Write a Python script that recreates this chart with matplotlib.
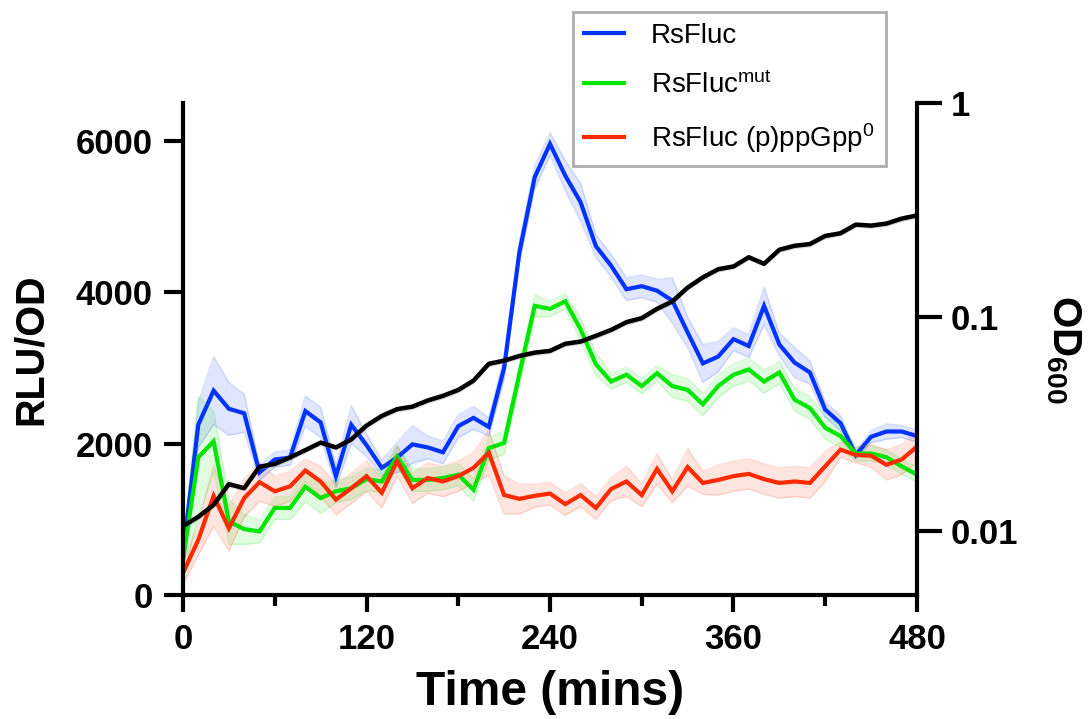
import numpy as np
import matplotlib
matplotlib.use('Agg')
import matplotlib.pyplot as plt

plt.rcParams['font.family'] = ['Liberation Sans', 'DejaVu Sans']
plt.rcParams['mathtext.fontset'] = 'custom'
plt.rcParams['mathtext.rm'] = 'Liberation Sans'
plt.rcParams['mathtext.it'] = 'Liberation Sans:italic'
plt.rcParams['mathtext.bf'] = 'Liberation Sans:bold'

# sampling every 10 min
time = np.arange(0, 490, 10)

rsfluc = [550, 2250, 2700, 2460, 2400, 1620, 1790, 1815, 2430, 2280,
          1570, 2250, 1980, 1680, 1815, 1990, 1950, 1885, 2230, 2340,
          2220, 3000, 4530, 5520, 5960, 5540, 5190, 4610, 4350, 4040,
          4080, 4020, 3890, 3470, 3060, 3150, 3380, 3290, 3820, 3310,
          3070, 2940, 2450, 2270, 1850, 2090, 2160, 2160, 2100]
rsfluc_err = [100, 300, 450, 350, 250, 100, 100, 100, 200, 200,
              150, 250, 150, 100, 200, 250, 150, 150, 150, 150,
              120, 150, 150, 150, 150, 200, 250, 150, 150, 150,
              150, 150, 300, 200, 250, 200, 150, 150, 250, 150,
              200, 150, 100, 100, 50, 80, 100, 80, 80]

rsfluc_mut = [460, 1820, 2030, 970, 870, 840, 1150, 1150, 1430, 1280,
              1370, 1410, 1530, 1500, 1830, 1520, 1520, 1545, 1590, 1390,
              1940, 2010, 2920, 3820, 3780, 3880, 3510, 3050, 2820, 2910,
              2760, 2930, 2760, 2710, 2520, 2760, 2910, 2980, 2820, 2940,
              2580, 2470, 2210, 2100, 1870, 1870, 1820, 1700, 1590]
rsfluc_mut_err = [200, 800, 400, 300, 200, 150, 150, 150, 200, 200,
                  150, 150, 150, 150, 150, 150, 150, 150, 150, 150,
                  150, 150, 150, 150, 100, 100, 150, 150, 100, 100,
                  100, 100, 150, 150, 150, 150, 150, 150, 150, 150,
                  150, 150, 150, 150, 100, 100, 100, 100, 100]

rsfluc_ppgpp0 = [290, 730, 1310, 880, 1280, 1490, 1370, 1435, 1645, 1500,
                 1260, 1410, 1570, 1350, 1770, 1410, 1545, 1500, 1570, 1680,
                 1880, 1320, 1270, 1310, 1340, 1200, 1320, 1150, 1400, 1500,
                 1320, 1665, 1370, 1690, 1480, 1520, 1570, 1600, 1530, 1480,
                 1500, 1480, 1700, 1920, 1850, 1840, 1720, 1790, 1960]
rsfluc_ppgpp0_err = [150, 200, 400, 300, 250, 250, 200, 200, 150, 200,
                     200, 200, 200, 200, 200, 200, 200, 200, 200, 200,
                     300, 250, 200, 150, 150, 150, 150, 150, 150, 200,
                     150, 200, 150, 250, 150, 200, 200, 200, 200, 200,
                     200, 200, 200, 100, 100, 150, 200, 200, 200]

od600 = [0.0105, 0.0116, 0.0132, 0.0165, 0.0158, 0.0199, 0.0205, 0.0220, 0.0238, 0.0258,
         0.0245, 0.0267, 0.031, 0.0344, 0.0370, 0.0380, 0.0406, 0.0427, 0.0455, 0.0503,
         0.0603, 0.0624, 0.0656, 0.0680, 0.0693, 0.0748, 0.0766, 0.0815, 0.0869, 0.0944,
         0.0986, 0.109, 0.118, 0.137, 0.153, 0.167, 0.172, 0.190, 0.177, 0.206,
         0.215, 0.219, 0.239, 0.246, 0.270, 0.267, 0.273, 0.288, 0.298]

labels = ['RsFluc', r'RsFluc$^{\mathrm{mut}}$', r'RsFluc (p)ppGpp$^{0}$']
colors = ['#0033ff', '#00e600', '#ff2a00']

fig = plt.figure(figsize=(10.92, 7.19), dpi=100)
ax = fig.add_axes([0.1676, 0.1725, 0.6721, 0.6842])

series = [(rsfluc, rsfluc_err), (rsfluc_mut, rsfluc_mut_err), (rsfluc_ppgpp0, rsfluc_ppgpp0_err)]
handles = []
for (vals, err), c, lab in zip(series, colors, labels):
    v = np.array(vals, dtype=float)
    e = np.array(err, dtype=float)
    ax.fill_between(time, v - e, v + e, color=c, alpha=0.12, lw=0)
    ax.plot(time, v - e, color=c, alpha=0.15, lw=1)
    ax.plot(time, v + e, color=c, alpha=0.15, lw=1)
    h, = ax.plot(time, v, color=c, lw=3, label=lab, solid_joinstyle='miter')
    handles.append(h)

ax.set_xlim(0, 480)
ax.set_ylim(0, 6500)
ax.set_xticks([0, 120, 240, 360, 480])
ax.set_xticks([60, 180, 300, 420], minor=True)
ax.set_yticks([0, 2000, 4000, 6000])
ax.tick_params(axis='both', which='major', width=3, labelsize=25)
ax.tick_params(axis='x', which='major', length=12, pad=8)
ax.tick_params(axis='x', which='minor', length=8, width=3)
ax.tick_params(axis='y', which='major', length=14, pad=8)
for lab in ax.get_xticklabels() + ax.get_yticklabels():
    lab.set_fontweight('bold')
ax.spines['top'].set_visible(False)
ax.spines['right'].set_visible(False)
ax.spines['left'].set_linewidth(3)
ax.spines['bottom'].set_linewidth(3)
ax.set_xlabel('Time (mins)', fontsize=34.5, fontweight='bold', labelpad=10)
ax.set_ylabel('RLU/OD', fontsize=28.5, fontweight='bold', labelpad=18)

# growth curve on the log axis
ax2 = ax.twinx()
od = np.array(od600)
ax2.fill_between(time, od * 0.97, od * 1.03, color='gray', alpha=0.3, lw=0)
ax2.plot(time, od, color='black', lw=3.2)
ax2.set_yscale('log')
ax2.set_ylim(0.005, 1)
ax2.set_yticks([0.01, 0.1, 1])
ax2.set_yticklabels(['0.01', '0.1', '1'])
ax2.yaxis.set_minor_locator(matplotlib.ticker.NullLocator())
ax2.tick_params(axis='y', which='major', length=18, width=3, labelsize=25, pad=6)
for lab in ax2.get_yticklabels():
    lab.set_fontweight('bold')
for s in ['top', 'left', 'bottom']:
    ax2.spines[s].set_visible(False)
ax2.spines['right'].set_linewidth(3)
ax2.set_ylabel(r'OD$_{\mathbf{600}}$', fontsize=29, fontweight='bold',
               rotation=270, labelpad=47)

leg = fig.legend(handles=handles, loc='upper left', bbox_to_anchor=(573 / 1092, 1 - 12 / 719),
                 fontsize=20, frameon=True, fancybox=False, borderaxespad=0,
                 handlelength=1.45, handletextpad=0.95, labelspacing=0.8,
                 borderpad=0.4)
leg.get_frame().set_edgecolor('#999999')
leg.get_frame().set_linewidth(2)
for line in leg.get_lines():
    line.set_linewidth(3)

fig.savefig('out.png', dpi=100)
